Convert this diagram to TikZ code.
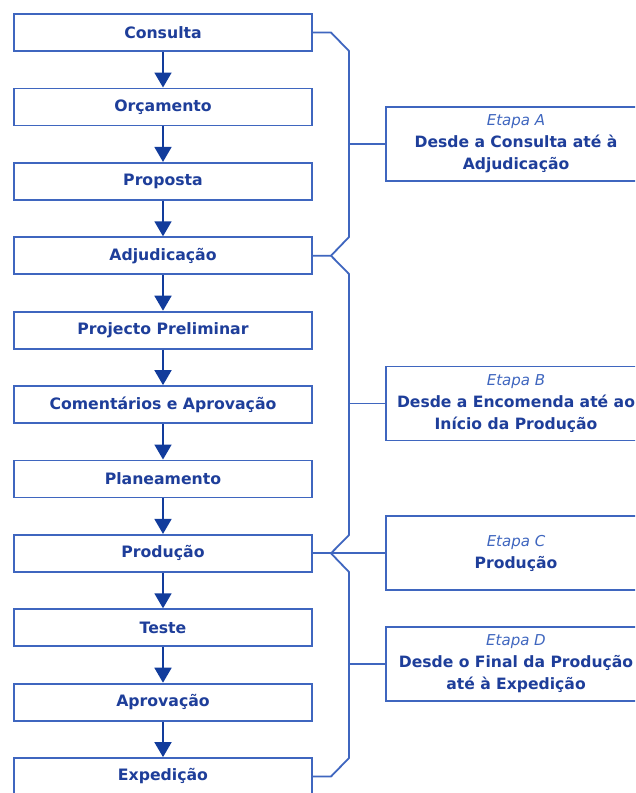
\documentclass[tikz,border=0pt]{standalone}
\usepackage{fontspec}
\setmainfont{DejaVu Sans}
\usetikzlibrary{arrows.meta}
\definecolor{linha}{HTML}{3F66BF}
\definecolor{texto}{HTML}{1E3E9A}
\definecolor{seta}{HTML}{123C9C}
\tikzset{
    passo/.style={draw=linha, line width=1.8pt, minimum width=298pt, minimum height=37pt,
        inner sep=0pt, text=texto, font=\fontsize{15.7}{18}\selectfont\bfseries},
    etapa/.style={draw=linha, line width=1.8pt, minimum width=260pt, minimum height=74pt,
        inner sep=0pt, align=center, text=texto, font=\fontsize{15.6}{22}\selectfont\bfseries},
    ligacao/.style={draw=seta, line width=1.8pt, -{Triangle[width=17pt,length=15pt]}},
    chaveta/.style={draw=linha, line width=1.8pt, line join=round}
}
\newcommand{\etapanome}[1]{{\fontsize{15}{22}\selectfont\mdseries\itshape\color{linha}#1}}
\begin{document}
\begin{tikzpicture}[x=1pt,y=-1pt]
    \clip (0,0) rectangle (635,793);
    \fill[white] (0,0) rectangle (635,793);

    \node[passo] (consulta) at(163, 32.5){Consulta};
    \node[passo] (orcamento) at(163, 106.9){Orçamento};
    \node[passo] (proposta) at(163, 181.3){Proposta};
    \node[passo] (adjudicacao) at(163, 255.7){Adjudicação};
    \node[passo] (preliminar) at(163, 330.1){Projecto Preliminar};
    \node[passo] (comentarios) at(163, 404.5){Comentários e Aprovação};
    \node[passo] (planeamento) at(163, 478.9){Planeamento};
    \node[passo] (producao) at(163, 553.3){Produção};
    \node[passo] (teste) at(163, 627.7){Teste};
    \node[passo] (aprovacao) at(163, 702.1){Aprovação};
    \node[passo] (expedicao) at(163, 776.5){Expedição};

    \draw[ligacao] (consulta) to (orcamento);
    \draw[ligacao] (orcamento) to (proposta);
    \draw[ligacao] (proposta) to (adjudicacao);
    \draw[ligacao] (adjudicacao) to (preliminar);
    \draw[ligacao] (preliminar) to (comentarios);
    \draw[ligacao] (comentarios) to (planeamento);
    \draw[ligacao] (planeamento) to (producao);
    \draw[ligacao] (producao) to (teste);
    \draw[ligacao] (teste) to (aprovacao);
    \draw[ligacao] (aprovacao) to (expedicao);

    \node[etapa] (etapaA) at(516, 144){\etapanome{Etapa A}\\Desde a Consulta até à\\Adjudicação};
    \node[etapa] (etapaB) at(516, 403.5){\etapanome{Etapa B}\\Desde a Encomenda até ao\\Início da Produção};
    \node[etapa] (etapaC) at(516, 553.3){\etapanome{Etapa C}\\Produção};
    \node[etapa] (etapaD) at(516, 664){\etapanome{Etapa D}\\Desde o Final da Produção\\até à Expedição};

    \coordinate (meioA) at(349, 144);
    \coordinate (meioB) at(349, 403.5);
    \coordinate (bicoC) at(331, 553.3);
    \coordinate (meioD) at(349, 664);

        \draw[chaveta] (consulta.east) to (331, 32.5) to (349, 51) to (349, 237) to (331, 255.7) to (adjudicacao.east);
            \draw[chaveta] (meioA) to (etapaA.west);
        \draw[chaveta] (331, 255.7) to (349, 274) to (349, 535) to (bicoC);
            \draw[chaveta] (meioB) to (etapaB.west);
        \draw[chaveta] (producao.east) to (bicoC) to (etapaC.west);
        \draw[chaveta] (bicoC) to (349, 572) to (349, 758) to (331, 776.5) to (expedicao.east);
            \draw[chaveta] (meioD) to (etapaD.west);
\end{tikzpicture}
\end{document}
